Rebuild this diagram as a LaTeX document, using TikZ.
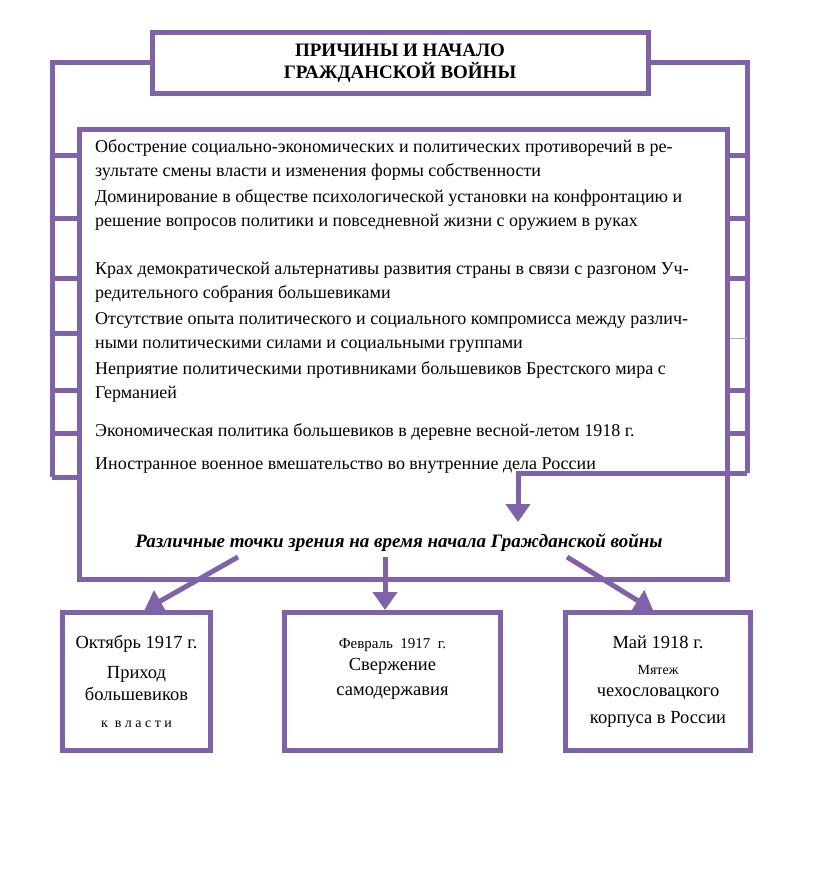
\documentclass[tikz,border=0pt]{standalone}
\usepackage{fontspec}
\setmainfont{Liberation Serif}
\usetikzlibrary{arrows.meta,positioning}
\definecolor{frame}{RGB}{128,98,170}

\tikzset{
  boxline/.style={draw=frame, line width=5pt},
  bracket/.style={draw=frame, line width=5pt},
  bigarrow/.style={draw=frame, line width=5pt, -{Triangle[width=24pt,length=18pt]}},
  item/.style={anchor=north west, inner sep=0pt, align=left, font=\fontsize{18}{24}\selectfont},
  datebox/.style={boxline, anchor=north west, minimum height=138pt, align=center, inner sep=2pt,
                  font=\fontsize{18.5}{22}\selectfont}
}

\begin{document}
\begin{tikzpicture}[x=1pt, y=-1pt]

  \useasboundingbox (0,0) rectangle (816,891);

  % -- Title --
  \node[boxline, minimum width=496pt, minimum height=60pt, align=center,
        font=\bfseries\fontsize{19}{22}\selectfont] (title) at (400,63)
        {ПРИЧИНЫ И НАЧАЛО\\ГРАЖДАНСКОЙ ВОЙНЫ};

  % -- Main box --
  \node[boxline, anchor=north west, minimum width=648pt, minimum height=450pt] (main) at (77,127) {};

  % -- Causes --
  \node[item] (c1) at (95,135) {\strut Обострение социально-экономических и политических противоречий в ре-\\зультате смены власти и изменения формы собственности};
  \node[item] (c2) at (95,185) {\strut Доминирование в обществе психологической установки на конфронтацию и\\решение вопросов политики и повседневной жизни с оружием в руках};
  \node[item] (c3) at (95,257) {\strut Крах демократической альтернативы развития страны в связи с разгоном Уч-\\редительного собрания большевиками};
  \node[item] (c4) at (95,307) {\strut Отсутствие опыта политического и социального компромисса между различ-\\ными политическими силами и социальными группами};
  \node[item] (c5) at (95,357) {\strut Неприятие политическими противниками большевиков Брестского мира с\\Германией};
  \node[item] (c6) at (95,419) {\strut Экономическая политика большевиков в деревне весной-летом 1918 г.};
  \node[item] (c7) at (95,452) {\strut Иностранное военное вмешательство во внутренние дела России};

  % -- Left bracket --
  \coordinate (lb) at (52,477);
  \draw[bracket] (title.west) -| (lb);
  \foreach \y in {155,218,278,333,390,433,477}
    \draw[bracket] (52,\y) -- (main.west |- 0,\y);

  % -- Right bracket --
  \coordinate (rb) at (747,473);
  \coordinate (rtip) at (518,522);
  \draw[bracket] (title.east) -| (rb);
  \foreach \y in {155,218,278,390,433}
    \draw[bracket] (main.east |- 0,\y) -- (747,\y);
  \draw[frame!60, line width=1pt] (main.east |- 0,338) -- (747,338);
  \draw[bigarrow] (rb) -| (rtip);

  % -- Viewpoints --
  \node[font=\bfseries\itshape\fontsize{19}{22}\selectfont] (views) at (399,543)
        {Различные точки зрения на время начала Гражданской войны};

  % -- Dates --
  \node[datebox, minimum width=148pt] (oct) at (60,610)
        {Октябрь 1917 г.\\[8pt] Приход\\большевиков\\[5pt] \fontsize{14}{22}\selectfont к\ \ в л а с т и};
  \node[datebox, minimum width=216pt] (feb) at (282,610)
        {\fontsize{15}{22}\selectfont Февраль\ \ 1917\ \ г.\\ Свержение\\[3pt]самодержавия\\[6pt] \mbox{}};
  \node[datebox, minimum width=185pt] (may) at (563,610)
        {Май 1918 г.\\[4pt] \fontsize{14}{22}\selectfont Мятеж\\чехословацкого\\[5pt]корпуса в России};

  % -- Arrows --
  \coordinate (a1) at (238,557);
  \coordinate (a2) at (385,557);
  \coordinate (a3) at (567,557);
  \draw[bigarrow] (a1) -- ([xshift=8pt]oct.north);
  \draw[bigarrow] (a2) -- (a2 |- feb.north);
  \draw[bigarrow] (a3) -- ([xshift=-5pt]may.north);

\end{tikzpicture}
\end{document}
